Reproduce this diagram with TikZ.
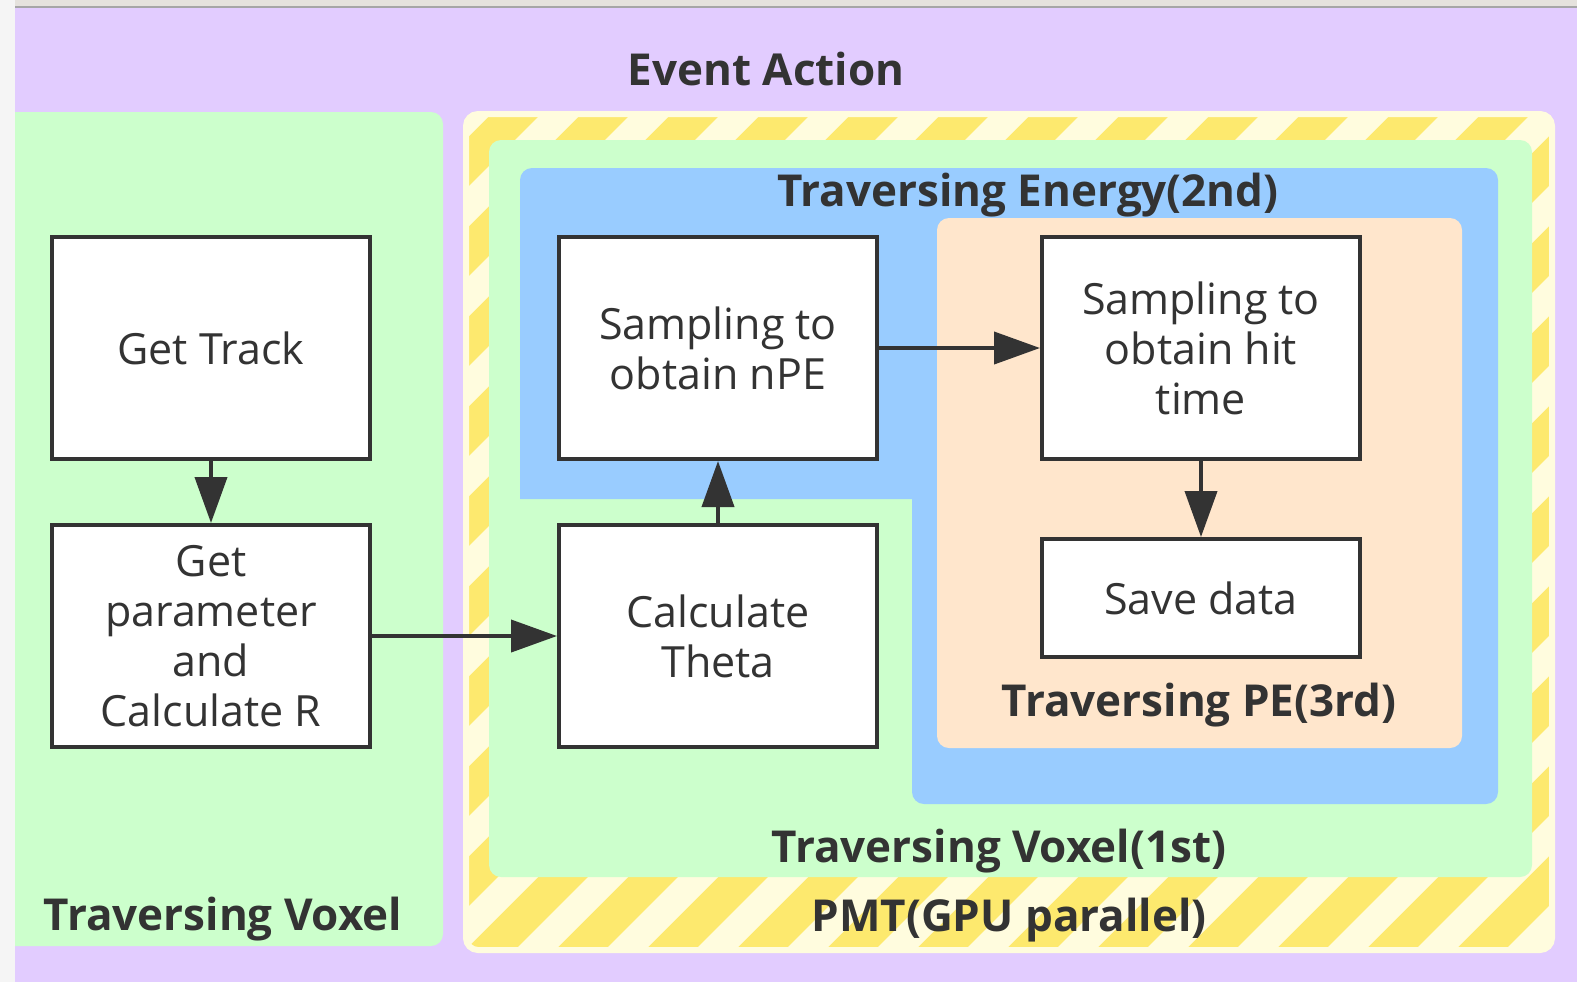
\documentclass[tikz,border=0pt]{standalone}
\usepackage{fontspec}
\setmainfont{Open Sans}
\usetikzlibrary{arrows.meta, positioning}
\definecolor{eaPurple}{RGB}{226,204,255}
\definecolor{voxGreen}{RGB}{204,255,204}
\definecolor{enBlue}{RGB}{153,204,255}
\definecolor{pePeach}{RGB}{255,230,204}
\definecolor{pmtYellow}{RGB}{253,233,110}
\definecolor{pmtLight}{RGB}{255,252,222}
\definecolor{inkGray}{RGB}{51,51,51}
\definecolor{winBar}{RGB}{229,226,221}

\begin{document}
\begin{tikzpicture}[
    x=0.5pt, y=-0.5pt,
    stepbox/.style={draw=inkGray, line width=2pt, fill=white, minimum width=159pt, minimum height=111pt, inner sep=0pt, align=center, text=inkGray, font=\fontsize{21.5}{25}\selectfont},
    grouplabel/.style={text=inkGray, text height=15.7pt, text depth=0pt, inner sep=0pt, font=\fontsize{22}{25}\selectfont\bfseries},
    flow/.style={draw=inkGray, line width=2pt, -{Triangle[length=23pt,width=16pt]}}
  ]
    \useasboundingbox (0,0) rectangle (1577,982);
    % window edge and canvas
    \fill[black!4] (0,0) rectangle (1577,982);
    \fill[winBar] (15,0) rectangle (1577,8);
    \draw[black!35, line width=1pt] (15,7) -- (1577,7);
    \fill[eaPurple] (15,8) rectangle (1577,982);

    % containers
    \fill[voxGreen] (15,946) -- (15,112) [rounded corners=6pt] -- (443,112) -- (443,946) [sharp corners] -- cycle;
    \begin{scope}
      \clip[rounded corners=6pt] (465,113) rectangle (1553,951);
      \fill[pmtLight] (465,113) rectangle (1553,951);
      \foreach \k in {0,...,22}
        \draw[pmtYellow, line width=17.5pt] (-420+\k*90,960) -- ++(860,-860);
    \end{scope}
    \draw[pmtLight, line width=3pt, rounded corners=6pt] (466,114) rectangle (1552,950);
    \fill[voxGreen, rounded corners=6pt] (489,140) rectangle (1532,877);
    \fill[enBlue] (912,499) -- (520,499) [rounded corners=6pt] -- (520,168) -- (1498,168) -- (1498,804) -- (912,804) [sharp corners] -- cycle;
    \fill[pePeach, rounded corners=6pt] (937,218) rectangle (1462,748);

    % group labels
    \node[grouplabel] (lblEvent) at (766,70) {Event Action};
    \node[grouplabel] (lblVoxel) at (223,915) {Traversing Voxel};
    \node[grouplabel] (lblEnergy) at (1028,191) {Traversing Energy(2nd)};
    \node[grouplabel] (lblPE) at (1199,701) {Traversing PE(3rd)};
    \node[grouplabel] (lblVoxelA) at (999,847) {Traversing Voxel(1st)};
    \node[grouplabel] (lblPMT) at (1009,916) {PMT(GPU parallel)};

    % steps
    \node[stepbox] (track) at (211,348) {Get Track};
    \node[stepbox, below=31pt of track] (param) {Get\\parameter\\and\\Calculate R};
    \node[stepbox, right=92.5pt of param] (theta) {Calculate\\Theta};
    \node[stepbox, above=31pt of theta] (npe) {Sampling to\\obtain nPE};
    \node[stepbox, right=80.5pt of npe] (hit) {Sampling to\\obtain hit\\time};
    \node[stepbox, minimum height=59pt, below=38pt of hit] (save) {Save data};

    \draw[flow] (track) -- (param);
    \draw[flow] (param) -- (theta);
    \draw[flow] (theta) -- (npe);
    \draw[flow] (npe) -- (hit);
    \draw[flow] (hit) -- (save);
  \end{tikzpicture}
\end{document}
